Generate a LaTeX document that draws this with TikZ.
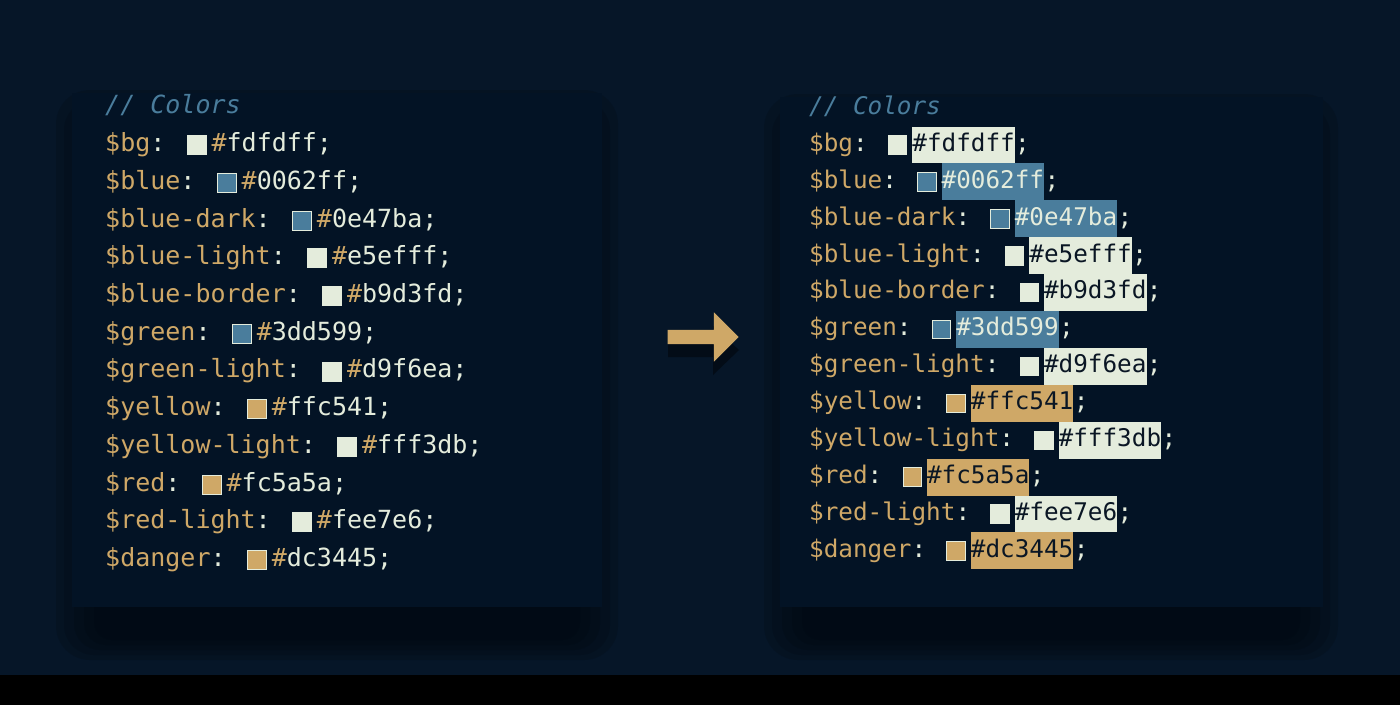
\documentclass[tikz,border=0pt]{standalone}
\usepackage{fontspec}
\usepackage{tikz}
\usetikzlibrary{positioning,shapes.arrows}
\newfontfamily\codefont{DejaVu Sans Mono}[ItalicFont={DejaVu Sans Mono Oblique}]
\newcommand{\lfont}{\codefont\fontsize{25}{30}\selectfont}
\newcommand{\rfont}{\codefont\fontsize{24.3}{29}\selectfont}
\newcommand{\hs}{{\color{keytan}\#}}
\definecolor{bgnavy}{HTML}{061628}
\definecolor{panelnavy}{HTML}{031325}
\definecolor{shadowc}{HTML}{01060C}
\definecolor{keytan}{HTML}{CFA867}
\definecolor{cream}{HTML}{E4ECDC}
\definecolor{steel}{HTML}{4A7D9C}
\definecolor{ink}{HTML}{0A1624}

\begin{document}
\begin{tikzpicture}[
  x=1pt, y=-1pt,
  keyl/.style={anchor=west,inner sep=0,font=\lfont,text=keytan,text height=19pt,text depth=6pt},
  keyr/.style={anchor=west,inner sep=0,font=\rfont,text=keytan,text height=18.5pt,text depth=5.8pt},
  swl/.style={draw=cream,line width=0.8pt,inner sep=0,minimum size=19pt},
  swr/.style={draw=cream,line width=0.8pt,inner sep=0,minimum size=18.5pt},
  hexl/.style={inner sep=0,font=\lfont,text=cream,text height=19pt,text depth=6pt},
  semr/.style={inner sep=0,font=\rfont,text=cream,text height=18.5pt,text depth=5.8pt},
  hexr/.style={inner sep=0,font=\rfont,text height=18.5pt,text depth=5.8pt,minimum height=36.9pt,
    label={[semr]east:;}},
  hlight/.style={hexr,fill=cream,text=ink},
  hblue/.style={hexr,fill=steel,text=cream},
  htan/.style={hexr,fill=keytan,text=ink},
  soft/.style={shadowc,opacity=0.18,rounded corners=#1}
]
% background, shadows and panels
\useasboundingbox (0,0) rectangle (1400,705);
\fill[bgnavy] (0,0) rectangle (1400,675);
\fill[black] (0,675) rectangle (1400,705);
\fill[soft=34pt] (56,90) rectangle (618,660);
\fill[soft=30pt] (64,100) rectangle (610,655);
\fill[soft=26pt] (74,112) rectangle (600,650);
\fill[soft=22pt] (84,124) rectangle (590,645);
\fill[soft=18pt] (94,136) rectangle (580,640);
\fill[soft=34pt] (764,94) rectangle (1338,660);
\fill[soft=30pt] (772,104) rectangle (1330,655);
\fill[soft=26pt] (782,116) rectangle (1320,650);
\fill[soft=22pt] (792,128) rectangle (1310,645);
\fill[soft=18pt] (802,140) rectangle (1300,640);
\fill[panelnavy] (72,93) rectangle (602,607);
\fill[panelnavy] (780,97) rectangle (1323,607);

% left panel
\node[keyl,text=steel,font=\lfont\itshape] (lcom) at (105,107) {// Colors};
\node[keyl] (bg) at (105,145.0) {\$bg\textcolor{cream}{:}};
\node[swl,fill=cream,right=21pt of bg] (bgsw) {};
\node[hexl,right=5pt of bgsw] (bghex) {\hs fdfdff;};
\node[keyl] (blue) at (105,182.7) {\$blue\textcolor{cream}{:}};
\node[swl,fill=steel,right=21pt of blue] (bluesw) {};
\node[hexl,right=5pt of bluesw] (bluehex) {\hs 0062ff;};
\node[keyl] (bluedark) at (105,220.5) {\$blue-dark\textcolor{cream}{:}};
\node[swl,fill=steel,right=21pt of bluedark] (bluedarksw) {};
\node[hexl,right=5pt of bluedarksw] (bluedarkhex) {\hs 0e47ba;};
\node[keyl] (bluelight) at (105,258.2) {\$blue-light\textcolor{cream}{:}};
\node[swl,fill=cream,right=21pt of bluelight] (bluelightsw) {};
\node[hexl,right=5pt of bluelightsw] (bluelighthex) {\hs e5efff;};
\node[keyl] (blueborder) at (105,295.9) {\$blue-border\textcolor{cream}{:}};
\node[swl,fill=cream,right=21pt of blueborder] (blueordersw) {};
\node[hexl,right=5pt of blueordersw] (blueborderhex) {\hs b9d3fd;};
\node[keyl] (green) at (105,333.7) {\$green\textcolor{cream}{:}};
\node[swl,fill=steel,right=21pt of green] (greensw) {};
\node[hexl,right=5pt of greensw] (greenhex) {\hs 3dd599;};
\node[keyl] (greenlight) at (105,371.4) {\$green-light\textcolor{cream}{:}};
\node[swl,fill=cream,right=21pt of greenlight] (greenlightsw) {};
\node[hexl,right=5pt of greenlightsw] (greenlighthex) {\hs d9f6ea;};
\node[keyl] (yellow) at (105,409.1) {\$yellow\textcolor{cream}{:}};
\node[swl,fill=keytan,right=21pt of yellow] (yellowsw) {};
\node[hexl,right=5pt of yellowsw] (yellowhex) {\hs ffc541;};
\node[keyl] (yellowlight) at (105,446.8) {\$yellow-light\textcolor{cream}{:}};
\node[swl,fill=cream,right=21pt of yellowlight] (yellowlightsw) {};
\node[hexl,right=5pt of yellowlightsw] (yellowlighthex) {\hs fff3db;};
\node[keyl] (red) at (105,484.6) {\$red\textcolor{cream}{:}};
\node[swl,fill=keytan,right=21pt of red] (redsw) {};
\node[hexl,right=5pt of redsw] (redhex) {\hs fc5a5a;};
\node[keyl] (redlight) at (105,522.3) {\$red-light\textcolor{cream}{:}};
\node[swl,fill=cream,right=21pt of redlight] (redlightsw) {};
\node[hexl,right=5pt of redlightsw] (redlighthex) {\hs fee7e6;};
\node[keyl] (danger) at (105,560.0) {\$danger\textcolor{cream}{:}};
\node[swl,fill=keytan,right=21pt of danger] (dangersw) {};
\node[hexl,right=5pt of dangersw] (dangerhex) {\hs dc3445;};

% arrow
\fill[shadowc,opacity=0.6] (668,343) -- (713,343) -- (713,326) -- (739,350) -- (713,375) -- (713,357) -- (668,357) -- cycle;
\node[single arrow,fill=keytan,inner sep=7pt,minimum height=71pt,single arrow head extend=17.5pt] (arrow) at (699.5,337) {};

% right panel
\node[keyr,text=steel,font=\rfont\itshape] (rcom) at (809,108) {// Colors};
\node[keyr] (rbg) at (809,145.0) {\$bg\textcolor{cream}{:}};
\node[swr,fill=cream,right=20pt of rbg] (rbgsw) {};
\node[hlight,right=5pt of rbgsw] (rbghex) {\#fdfdff};
\node[keyr] (rblue) at (809,181.9) {\$blue\textcolor{cream}{:}};
\node[swr,fill=steel,right=20pt of rblue] (rbluesw) {};
\node[hblue,right=5pt of rbluesw] (rbluehex) {\#0062ff};
\node[keyr] (rbluedark) at (809,218.8) {\$blue-dark\textcolor{cream}{:}};
\node[swr,fill=steel,right=20pt of rbluedark] (rbluedarksw) {};
\node[hblue,right=5pt of rbluedarksw] (rbluedarkhex) {\#0e47ba};
\node[keyr] (rbluelight) at (809,255.7) {\$blue-light\textcolor{cream}{:}};
\node[swr,fill=cream,right=20pt of rbluelight] (rbluelightsw) {};
\node[hlight,right=5pt of rbluelightsw] (rbluelighthex) {\#e5efff};
\node[keyr] (rblueborder) at (809,292.6) {\$blue-border\textcolor{cream}{:}};
\node[swr,fill=cream,right=20pt of rblueborder] (rbluebordersw) {};
\node[hlight,right=5pt of rbluebordersw] (rblueborderhex) {\#b9d3fd};
\node[keyr] (rgreen) at (809,329.5) {\$green\textcolor{cream}{:}};
\node[swr,fill=steel,right=20pt of rgreen] (rgreensw) {};
\node[hblue,right=5pt of rgreensw] (rgreenhex) {\#3dd599};
\node[keyr] (rgreenlight) at (809,366.4) {\$green-light\textcolor{cream}{:}};
\node[swr,fill=cream,right=20pt of rgreenlight] (rgreenlightsw) {};
\node[hlight,right=5pt of rgreenlightsw] (rgreenlighthex) {\#d9f6ea};
\node[keyr] (ryellow) at (809,403.3) {\$yellow\textcolor{cream}{:}};
\node[swr,fill=keytan,right=20pt of ryellow] (ryellowsw) {};
\node[htan,right=5pt of ryellowsw] (ryellowhex) {\#ffc541};
\node[keyr] (ryellowlight) at (809,440.2) {\$yellow-light\textcolor{cream}{:}};
\node[swr,fill=cream,right=20pt of ryellowlight] (ryellowlightsw) {};
\node[hlight,right=5pt of ryellowlightsw] (ryellowlighthex) {\#fff3db};
\node[keyr] (rred) at (809,477.1) {\$red\textcolor{cream}{:}};
\node[swr,fill=keytan,right=20pt of rred] (rredsw) {};
\node[htan,right=5pt of rredsw] (rredhex) {\#fc5a5a};
\node[keyr] (rredlight) at (809,514.0) {\$red-light\textcolor{cream}{:}};
\node[swr,fill=cream,right=20pt of rredlight] (rredlightsw) {};
\node[hlight,right=5pt of rredlightsw] (rredlighthex) {\#fee7e6};
\node[keyr] (rdanger) at (809,550.9) {\$danger\textcolor{cream}{:}};
\node[swr,fill=keytan,right=20pt of rdanger] (rdangersw) {};
\node[htan,right=5pt of rdangersw] (rdangerhex) {\#dc3445};
\end{tikzpicture}
\end{document}
